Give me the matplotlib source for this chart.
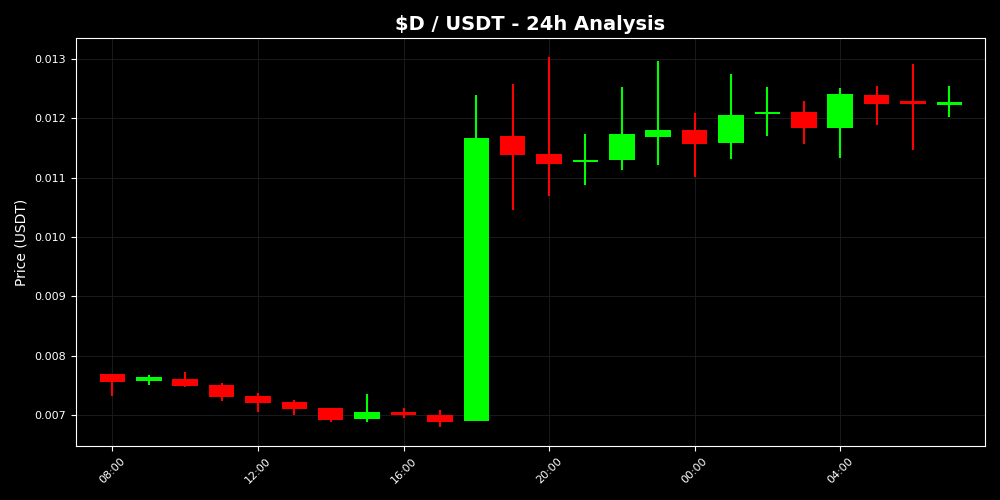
import matplotlib
matplotlib.use("Agg")
import matplotlib.pyplot as plt
import matplotlib.dates as mdates
import numpy as np
import pandas as pd

# hourly candles, 08:00 -> 07:00 next day
times = pd.date_range("2024-01-01 08:00", periods=24, freq="h")
opens = [0.007693, 0.007579, 0.007620, 0.007520, 0.007335, 0.007223, 0.007118, 0.006938,
         0.007056, 0.007000, 0.006900, 0.011693, 0.011403, 0.011257, 0.011296, 0.011681,
         0.011793, 0.011581, 0.012061, 0.012095, 0.011832, 0.012385, 0.012268, 0.012224]
highs = [0.007700, 0.007687, 0.007738, 0.007553, 0.007386, 0.007257, 0.007134, 0.007357,
         0.007134, 0.007089, 0.012380, 0.012564, 0.013033, 0.011738, 0.012514, 0.012950,
         0.012083, 0.012732, 0.012514, 0.012279, 0.012497, 0.012531, 0.012900, 0.012531]
lows = [0.007324, 0.007508, 0.007486, 0.007252, 0.007056, 0.007000, 0.006888, 0.006883,
        0.006955, 0.006799, 0.006900, 0.010453, 0.010692, 0.010877, 0.011128, 0.011207,
        0.011011, 0.011312, 0.011698, 0.011564, 0.011329, 0.011882, 0.011463, 0.012016]
closes = [0.007570, 0.007646, 0.007503, 0.007307, 0.007206, 0.007106, 0.006917, 0.007056,
          0.007000, 0.006883, 0.011664, 0.011374, 0.011229, 0.011291, 0.011726, 0.011793,
          0.011564, 0.012050, 0.012095, 0.011832, 0.012402, 0.012234, 0.012241, 0.012251]

up_col = "#00ff00"
down_col = "#ff0000"

fig = plt.figure(figsize=(10, 5), dpi=100, facecolor="black")
ax = fig.add_axes([0.076, 0.108, 0.909, 0.816])
ax.set_facecolor("black")

x = mdates.date2num(times)
o = np.array(opens)
c = np.array(closes)
cols = [up_col if cc >= oo else down_col for oo, cc in zip(o, c)]
body_w = 0.7 / 24

ax.vlines(x, lows, highs, colors=cols, linewidth=1.5, zorder=2)
heights = np.maximum(np.abs(c - o), 0.00004)
bottoms = np.minimum(o, c)
ax.bar(x, heights, width=body_w, bottom=bottoms, color=cols, zorder=3)

ax.set_xlim(mdates.date2num(times[0]) - 1 / 24, mdates.date2num(times[-1]) + 0.98 / 24)
ax.xaxis.set_major_locator(mdates.HourLocator(byhour=[0, 4, 8, 12, 16, 20]))
ax.xaxis.set_major_formatter(mdates.DateFormatter("%H:%M"))
plt.setp(ax.get_xticklabels(), rotation=45)

ax.grid(True, color="#1e1e1e", linewidth=0.6)
ax.set_axisbelow(True)
for s in ax.spines.values():
    s.set_color("white")
ax.tick_params(colors="white", labelsize=8)

ax.set_title("\\$D / USDT - 24h Analysis", color="white", fontsize=14, fontweight="bold")
ax.set_ylabel("Price (USDT)", color="white", fontsize=10)

fig.savefig("out.png", dpi=100, facecolor="black")
